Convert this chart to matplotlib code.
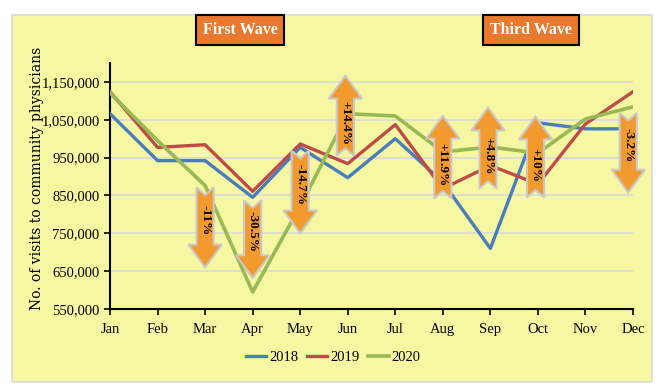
import numpy as np
import matplotlib.pyplot as plt
from matplotlib.patches import Polygon, Rectangle

months = ['Jan', 'Feb', 'Mar', 'Apr', 'May', 'Jun',
          'Jul', 'Aug', 'Sep', 'Oct', 'Nov', 'Dec']
visits_2018 = [1066000, 942000, 942000, 845000, 977000, 897000,
               1000000, 885000, 710000, 1042000, 1026000, 1026000]
visits_2019 = [1124000, 977000, 984000, 861000, 986000, 934000,
               1037000, 868000, 929000, 880000, 1039000, 1124000]
visits_2020 = [1121000, 995000, 876000, 595000, 822000, 1066000,
               1060000, 965000, 978000, 962000, 1052000, 1084000]

# change arrows: month position, label, tail value, tip value
arrow_pos = [2, 3, 4.0, 4.95, 7, 7.95, 8.95, 10.9]
arrow_labels = ['-11%', '-30.5%', '-14.7%', '+14.4%',
                '+11.9%', '+4.8%', '+10%', '-3.2%']
arrow_tail = [871000, 837000, 968000, 955000, 842000, 868000, 845000, 1068000]
arrow_tip = [660000, 632000, 750000, 1166000, 1060000, 1082000, 1058000, 858000]

yticks = np.arange(550000, 1150001, 100000)

fig = plt.figure(figsize=(6.62, 3.9), dpi=100)
fig.patch.set_facecolor('white')
fig.patches.append(Rectangle((0.018, 0.0205), 0.967, 0.941, transform=fig.transFigure,
                             facecolor='#F6F7A2', edgecolor='#D9D9D9', lw=1.2, zorder=-10))

ax = fig.add_axes([0.1662, 0.2077, 0.79, 0.6308])
ax.set_facecolor('none')

x = np.arange(len(months))
ax.plot(x, visits_2018, color='#4A7EBB', lw=2.4, label='2018', zorder=3)
ax.plot(x, visits_2019, color='#BE4B48', lw=2.4, label='2019', zorder=3)
ax.plot(x, visits_2020, color='#98B954', lw=2.6, label='2020', zorder=3)

ax.set_xlim(0, 11)
ax.set_ylim(550000, 1200000)
ax.set_xticks(x)
ax.set_xticklabels(months)
ax.set_yticks(yticks)
ax.set_yticklabels(['{:,}'.format(v) for v in yticks])
for lab in ax.get_xticklabels() + ax.get_yticklabels():
    lab.set_fontfamily('Liberation Serif')
    lab.set_fontsize(10.5)
ax.tick_params(axis='both', direction='out', length=4, width=1.2, color='black')
ax.tick_params(axis='x', pad=6)
ax.grid(axis='y', color='#D9D9D9', lw=1.2, zorder=0)
ax.set_axisbelow(True)
for s in ['top', 'right']:
    ax.spines[s].set_visible(False)
for s in ['left', 'bottom']:
    ax.spines[s].set_linewidth(1.5)

ax.set_ylabel('No. of visits to community physicians', family='DejaVu Serif',
              fontsize=10, va='center')
ax.yaxis.set_label_coords(-0.14, 0.532)

# block arrows
bw, hw = 0.18, 0.35
hl, notch = 60000, 20000
for xp, lab, t0, t1 in zip(arrow_pos, arrow_labels, arrow_tail, arrow_tip):
    d = 1 if t1 > t0 else -1
    base = t1 - d * hl
    pts = [(xp - bw, t0), (xp, t0 + d * notch), (xp + bw, t0),
           (xp + bw, base), (xp + hw, base), (xp, t1),
           (xp - hw, base), (xp - bw, base)]
    ax.add_patch(Polygon(pts, closed=True, facecolor='#F29A2E',
                         edgecolor='#C9C9C9', lw=1.5, zorder=5, clip_on=False))
    ax.text(xp, (t0 + base) / 2 + d * notch / 2, lab, rotation=-90, ha='center',
            va='center', family='Liberation Serif', fontweight='bold',
            fontsize=9.5, zorder=6)

# wave labels
for xf, txt in [(0.3625, 'First Wave'), (0.802, 'Third Wave')]:
    fig.text(xf, 0.923, txt, ha='center', va='center', color='white',
             family='Liberation Serif', fontweight='bold', fontsize=11.5,
             bbox=dict(boxstyle='square,pad=0.42', facecolor='#E8792F',
                       edgecolor='black', lw=1.5))

leg = ax.legend(loc='center', bbox_to_anchor=(0.503, 0.0846),
                bbox_transform=fig.transFigure, ncol=3, frameon=False,
                handlelength=1.4, handletextpad=0.2, columnspacing=0.6,
                prop={'family': 'Liberation Serif', 'size': 10.5})

fig.savefig('out.png', dpi=100)
